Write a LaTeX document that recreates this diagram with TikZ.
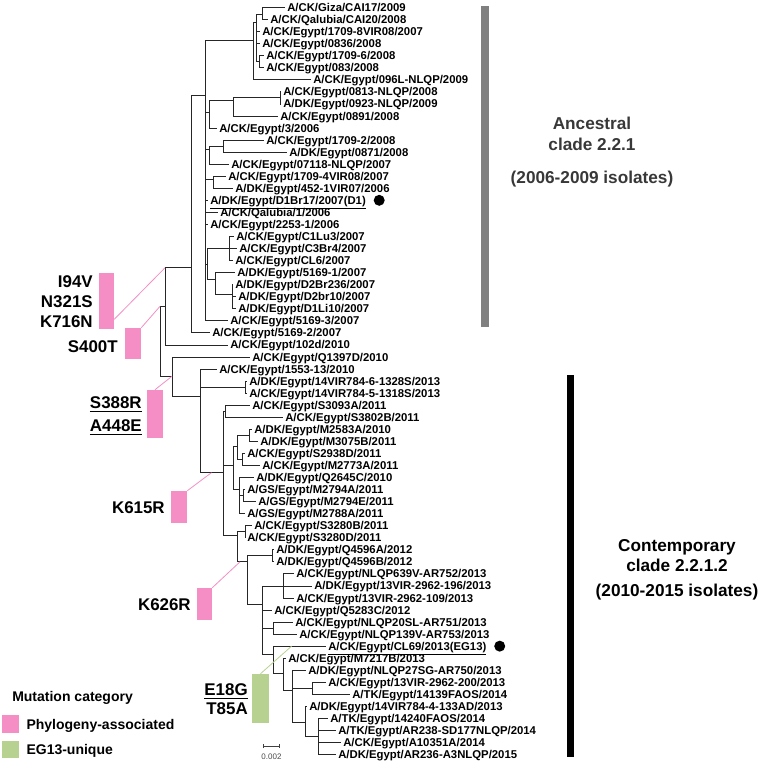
\documentclass[tikz,border=0pt]{standalone}
\usepackage{fontspec}
\setmainfont{Liberation Sans}
\usetikzlibrary{positioning,arrows.meta,calc}
\definecolor{mutpink}{RGB}{244,142,196}
\definecolor{mutgreen}{RGB}{183,209,145}
\definecolor{cladegray}{RGB}{128,128,128}
\tikzset{
  leaf/.style={anchor=west, inner xsep=1.5pt, inner ysep=0pt, text height=6.1pt, text depth=0pt, font=\fontsize{8.5}{10}\selectfont\bfseries},
  branch/.style={line width=0.6pt, black!85},
  mutbox/.style={fill=#1, inner sep=0pt, minimum width=12pt},
  mutlabel/.style={anchor=north east, inner sep=0pt, align=right, font=\fontsize{12.7}{15}\selectfont\bfseries},
  mutline/.style={draw=#1, line width=0.6pt},
  cladelabel/.style={anchor=north, inner sep=0pt, align=center, font=\fontsize{12.9}{15}\selectfont\bfseries},
  dot/.style={circle, fill=black, inner sep=0pt, minimum size=8.25pt},
  legend/.style={anchor=west, inner sep=0pt, text height=7.5pt, text depth=0pt, font=\fontsize{10.5}{12}\selectfont\bfseries}
}

\begin{document}
\begin{tikzpicture}[x=0.75pt, y=-0.75pt]
        \useasboundingbox (0,0) rectangle (760,767);

        \fill[cladegray] (481,6) rectangle (489,327);
        \fill[black] (567,375) rectangle (574,757);
        \node[cladelabel, text=black!78] (anc) at (592,116.8) {Ancestral\\[0.75pt]clade 2.2.1};
        \node[cladelabel, text=black!78] (ancyears) at (592,170.8) {(2006-2009 isolates)};
        \node[cladelabel] (con) at (677,538.8) {Contemporary\\clade 2.2.1.2};
        \node[cladelabel] (conyears) at (677,583.8) {(2010-2015 isolates)};

        \begin{scope}[yshift=-5.625pt, y=-9.0375pt]
        \node[leaf] (s1) at (285,0) {A/CK/Giza/CAI17/2009};
        \node[leaf] (s2) at (268,1) {A/CK/Qalubia/CAI20/2008};
        \node[leaf] (s3) at (260,2) {A/CK/Egypt/1709-8VIR08/2007};
        \node[leaf] (s4) at (260,3) {A/CK/Egypt/0836/2008};
        \node[leaf] (s5) at (264,4) {A/CK/Egypt/1709-6/2008};
        \node[leaf] (s6) at (264,5) {A/CK/Egypt/083/2008};
        \node[leaf] (s7) at (311,6) {A/CK/Egypt/096L-NLQP/2009};
        \node[leaf] (s8) at (281,7) {A/CK/Egypt/0813-NLQP/2008};
        \node[leaf] (s9) at (281,8) {A/DK/Egypt/0923-NLQP/2009};
        \node[leaf] (s10) at (278,9) {A/CK/Egypt/0891/2008};
        \node[leaf] (s11) at (217,10) {A/CK/Egypt/3/2006};
        \node[leaf] (s12) at (264,11) {A/CK/Egypt/1709-2/2008};
        \node[leaf] (s13) at (287,12) {A/DK/Egypt/0871/2008};
        \node[leaf] (s14) at (229,13) {A/CK/Egypt/07118-NLQP/2007};
        \node[leaf] (s15) at (226,14) {A/CK/Egypt/1709-4VIR08/2007};
        \node[leaf] (s16) at (233,15) {A/DK/Egypt/452-1VIR07/2006};
        \node[leaf] (s17) at (208,16) {\underline{A/DK/Egypt/D1Br17/2007(D1)}};
        \node[leaf] (s18) at (218,17) {A/CK/Qalubia/1/2006};
        \node[leaf] (s19) at (208,18) {A/CK/Egypt/2253-1/2006};
        \node[leaf] (s20) at (234,19) {A/CK/Egypt/C1Lu3/2007};
        \node[leaf] (s21) at (237,20) {A/CK/Egypt/C3Br4/2007};
        \node[leaf] (s22) at (233,21) {A/CK/Egypt/CL6/2007};
        \node[leaf] (s23) at (235,22) {A/DK/Egypt/5169-1/2007};
        \node[leaf] (s24) at (233,23) {A/DK/Egypt/D2Br236/2007};
        \node[leaf] (s25) at (236,24) {A/DK/Egypt/D2br10/2007};
        \node[leaf] (s26) at (236,25) {A/DK/Egypt/D1Li10/2007};
        \node[leaf] (s27) at (228,26) {A/CK/Egypt/5169-3/2007};
        \node[leaf] (s28) at (210,27) {A/CK/Egypt/5169-2/2007};
        \node[leaf] (s29) at (228,28) {A/CK/Egypt/102d/2010};
        \node[leaf] (s30) at (250,29) {A/CK/Egypt/Q1397D/2010};
        \node[leaf] (s31) at (217,30) {A/CK/Egypt/1553-13/2010};
        \node[leaf] (s32) at (247,31) {A/DK/Egypt/14VIR784-6-1328S/2013};
        \node[leaf] (s33) at (247,32) {A/CK/Egypt/14VIR784-5-1318S/2013};
        \node[leaf] (s34) at (250,33) {A/CK/Egypt/S3093A/2011};
        \node[leaf] (s35) at (283,34) {A/CK/Egypt/S3802B/2011};
        \node[leaf] (s36) at (252,35) {A/DK/Egypt/M2583A/2010};
        \node[leaf] (s37) at (258,36) {A/DK/Egypt/M3075B/2011};
        \node[leaf] (s38) at (245,37) {A/CK/Egypt/S2938D/2011};
        \node[leaf] (s39) at (260,38) {A/CK/Egypt/M2773A/2011};
        \node[leaf] (s40) at (254,39) {A/DK/Egypt/Q2645C/2010};
        \node[leaf] (s41) at (245,40) {A/GS/Egypt/M2794A/2011};
        \node[leaf] (s42) at (256,41) {A/GS/Egypt/M2794E/2011};
        \node[leaf] (s43) at (245,42) {A/GS/Egypt/M2788A/2011};
        \node[leaf] (s44) at (252,43) {A/CK/Egypt/S3280B/2011};
        \node[leaf] (s45) at (245,44) {A/CK/Egypt/S3280D/2011};
        \node[leaf] (s46) at (274,45) {A/DK/Egypt/Q4596A/2012};
        \node[leaf] (s47) at (274,46) {A/DK/Egypt/Q4596B/2012};
        \node[leaf] (s48) at (294,47) {A/CK/Egypt/NLQP639V-AR752/2013};
        \node[leaf] (s49) at (312,48) {A/DK/Egypt/13VIR-2962-196/2013};
        \node[leaf] (s50) at (294,49) {A/CK/Egypt/13VIR-2962-109/2013};
        \node[leaf] (s51) at (272,50) {A/CK/Egypt/Q5283C/2012};
        \node[leaf] (s52) at (293,51) {A/CK/Egypt/NLQP20SL-AR751/2013};
        \node[leaf] (s53) at (297,52) {A/CK/Egypt/NLQP139V-AR753/2013};
        \node[leaf] (s54) at (326,53) {\underline{A/CK/Egypt/CL69/2013(EG13)}};
        \node[leaf] (s55) at (286,54) {A/CK/Egypt/M7217B/2013};
        \node[leaf] (s56) at (306,55) {A/DK/Egypt/NLQP27SG-AR750/2013};
        \node[leaf] (s57) at (326,56) {A/CK/Egypt/13VIR-2962-200/2013};
        \node[leaf] (s58) at (350,57) {A/TK/Egypt/14139FAOS/2014};
        \node[leaf] (s59) at (307,58) {A/DK/Egypt/14VIR784-4-133AD/2013};
        \node[leaf] (s60) at (328,59) {A/TK/Egypt/14240FAOS/2014};
        \node[leaf] (s61) at (336,60) {A/TK/Egypt/AR238-SD177NLQP/2014};
        \node[leaf] (s62) at (341,61) {A/CK/Egypt/A10351A/2014};
        \node[leaf] (s63) at (336,62) {A/DK/Egypt/AR236-A3NLQP/2015};

        \coordinate (root) at (160,24.8);
        \coordinate (anc0) at (165,24.8);
        \coordinate (anc1) at (191,21.6);
        \coordinate (anc2) at (205,7.3);
        \coordinate (g1) at (253,2.7);
        \coordinate (g1a) at (256,1.2);
        \coordinate (g1b) at (262,0.6);
        \coordinate (g1c) at (259,4.5);
        \coordinate (g2) at (209,8.7);
        \coordinate (g2a) at (233,7.7);
        \coordinate (g2b) at (280,7.5);
        \coordinate (g3) at (209,11.8);
        \coordinate (g3a) at (223,11.5);
        \coordinate (g4) at (213,14.3);
        \coordinate (g5) at (207,21.3);
        \coordinate (g5a) at (229,20);
        \coordinate (g5b) at (215,22.6);
        \coordinate (g5c) at (232,23.8);
        \coordinate (con0) at (172,30.6);
        \coordinate (con1) at (200,32.3);
        \coordinate (con2) at (245,31.5);
        \coordinate (con3) at (223,38.6);
        \coordinate (h1) at (225,33.5);
        \coordinate (h2) at (233,38.0);
        \coordinate (h3) at (237,36.4);
        \coordinate (h4) at (249,35.5);
        \coordinate (h5) at (242,37.5);
        \coordinate (h6) at (239,40.0);
        \coordinate (h7) at (243,40.5);
        \coordinate (k1) at (237,43.8);
        \coordinate (k2) at (245,43.5);
        \coordinate (k3) at (247,46.0);
        \coordinate (k4) at (272,45.5);
        \coordinate (k5) at (262,49.5);
        \coordinate (k6) at (283,48.0);
        \coordinate (k7) at (273,51.5);
        \coordinate (k8) at (273,53.7);
        \coordinate (k9) at (283,55.3);
        \coordinate (k10) at (292,56.7);
        \coordinate (k11) at (312,56.5);
        \coordinate (k12) at (305,59.3);
        \coordinate (k13) at (318,60.5);

        \foreach \p/\c in {root/anc0, root/con0, anc0/anc1, anc1/anc2, anc2/g1, anc2/g2, anc2/g3, anc2/g4, anc2/g5,
            g1/g1a, g1a/g1b, g1a/g1c, g2/g2a, g2a/g2b, g3/g3a, g5/g5a, g5/g5b, g5b/g5c,
            con0/con1, con1/con2, con1/con3, con3/h1, con3/h2, con3/k1, h2/h3, h2/h6, h3/h4, h3/h5, h6/h7,
            k1/k2, k1/k3, k3/k4, k3/k5, k5/k6, k5/k7, k5/k8, k8/k9, k9/k10, k10/k11, k10/k12, k12/k13}
            \draw[branch] (\p) |- (\c);
        \foreach \p/\c in {g1b/s1, g1b/s2, g1a/s3, g1a/s4, g1c/s5, g1c/s6, g1/s7, g2b/s8, g2b/s9, g2a/s10, g2/s11,
            g3a/s12, g3a/s13, g3/s14, g4/s15, g4/s16, anc2/s17, anc2/s18, anc2/s19, g5a/s20, g5a/s21, g5a/s22,
            g5b/s23, g5c/s24, g5c/s25, g5c/s26, anc2/s27, anc1/s28, anc0/s29, con0/s30, con1/s31, con2/s32, con2/s33,
            h1/s34, h1/s35, h4/s36, h4/s37, h5/s38, h5/s39, h6/s40, h7/s41, h7/s42, h6/s43, k2/s44, k2/s45,
            k4/s46, k4/s47, k6/s48, k6/s49, k6/s50, k5/s51, k7/s52, k7/s53, k8/s54, k9/s55, k10/s56,
            k11/s57, k11/s58, k12/s59, k13/s60, k13/s61, k13/s62, k13/s63}
            \draw[branch] (\p) |- (\c.west);
        \end{scope}

        \node[dot, right=4pt of s17] (d1dot) {};
        \node[dot, right=4pt of s54] (eg13dot) {};

        \node[mutbox=mutpink, minimum width=11.25pt, minimum height=42pt] (m94) at (106.5,301) {};
        \node[mutbox=mutpink, minimum height=23.25pt] (m400) at (133,343.5) {};
        \node[mutbox=mutpink, minimum height=36pt] (m388) at (155,414) {};
        \node[mutbox=mutpink, minimum height=24pt] (m615) at (179,507) {};
        \node[mutbox=mutpink, minimum width=11.25pt, minimum height=24pt] (m626) at (204.5,604) {};
        \node[mutbox=mutgreen, minimum width=12.75pt, minimum height=36.75pt] (m18) at (260.5,698.5) {};

        \node[mutlabel] (t94) at (93,275.9) {I94V\\N321S\\K716N};
        \node[mutlabel] (t400) at (118,340.9) {S400T};
        \node[mutlabel] (t388) at (142,396.9) {\underline{S388R}\\[2.25pt]\underline{A448E}};
        \node[mutlabel] (t615) at (165,501.9) {K615R};
        \node[mutlabel] (t626) at (191,598.9) {K626R};
        \node[mutlabel] (t18) at (248,683.9) {\underline{E18G}\\[-0.75pt]T85A};

        \draw[mutline=mutpink] (m94.-67) -- (anc0 |- anc1);
        \draw[mutline=mutpink] (m400.north east) -- (root);
        \draw[mutline=mutpink] (m388.north) -- (con0);
        \draw[mutline=mutpink] (m615.north east) -- ($(con1 |- con3)!0.5!(con3)$);
        \draw[mutline=mutpink] (m626.north east) -- ($(k1 |- k3)!0.3!(k3)$);
        \draw[mutline=mutgreen] (m18.north) -- ($(k8 |- s54.west)!0.35!(s54.west)$);

        \coordinate (sbleft) at (263,746);
        \coordinate (sbright) at (280,746);
        \draw[{Bar[width=3pt]}-{Bar[width=3pt]}, line width=0.6pt, black!75] (sbleft) -- (sbright);
        \node[font=\fontsize{6}{7}\selectfont, text=black!70, inner sep=0pt] (sblabel) at (271.5,757) {0.002};

        \node[legend] (legtitle) at (12,696) {Mutation category};
        \node[mutbox=mutpink, minimum width=12.75pt, minimum height=13.5pt] (legpink) at (10.5,724) {};
        \node[legend, right=5.25pt of legpink] (legpinktext) {Phylogeny-associated};
        \node[mutbox=mutgreen, minimum width=12.75pt, minimum height=12.75pt] (leggreen) at (10.5,749.5) {};
        \node[legend, right=5.25pt of leggreen] (leggreentext) {EG13-unique};
    \end{tikzpicture}
\end{document}
